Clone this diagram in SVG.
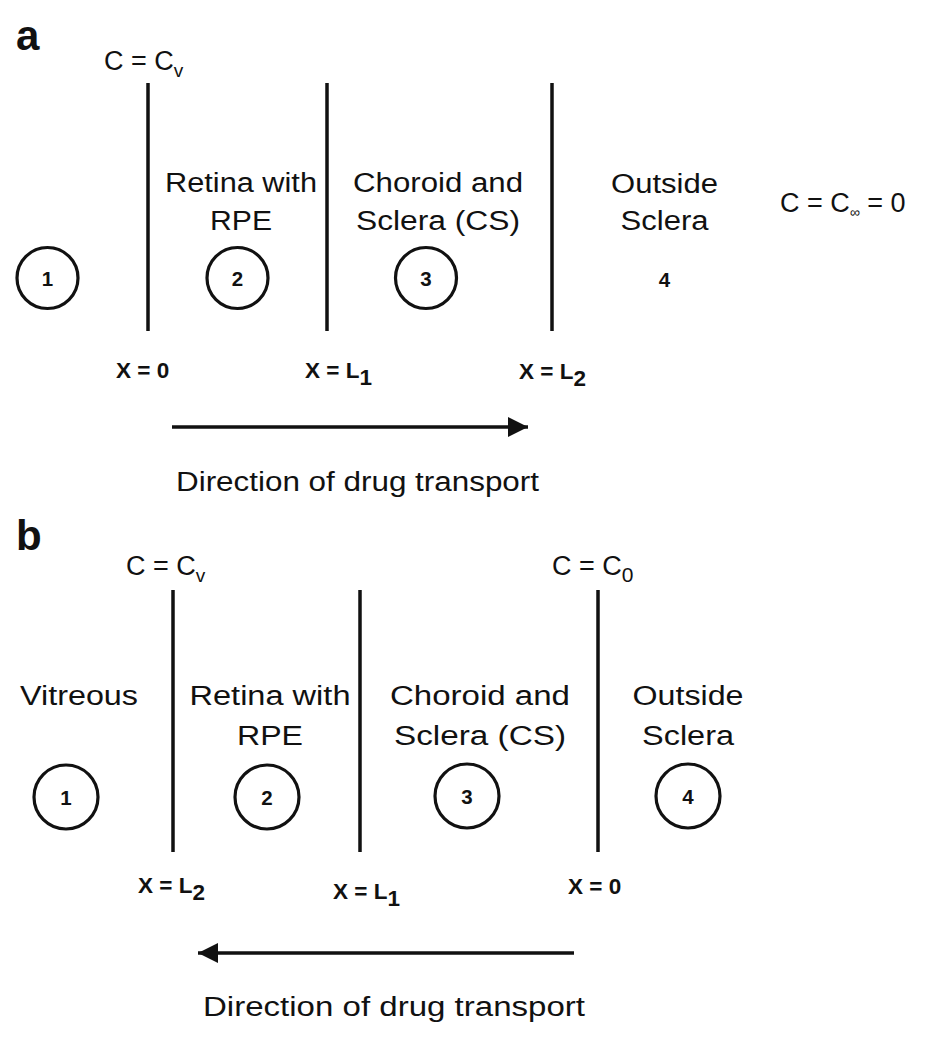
<svg xmlns="http://www.w3.org/2000/svg" width="932" height="1050" viewBox="0 0 932 1050">
<style>
.t{font-family:"Liberation Sans",Arial,sans-serif;font-size:27px;fill:#111}
.m{text-anchor:middle}
.b{font-family:"Liberation Sans",Arial,sans-serif;font-weight:bold;fill:#111}
.n{font-size:20.5px;text-anchor:middle}
.x{font-size:22.5px}
.p{font-size:42px}
.wall{stroke:#111;stroke-width:3.5;fill:none}
.c{stroke:#111;stroke-width:3.2;fill:none}
.arr{stroke:#111;stroke-width:3.5;fill:none}
</style>
<defs>
<marker id="ah" viewBox="0 0 20 20" refX="20" refY="10" markerWidth="20" markerHeight="20" markerUnits="userSpaceOnUse" orient="auto">
<path d="M0,0 L20,10 L0,20 Z" fill="#111"/>
</marker>
</defs>
<rect width="932" height="1050" fill="#fff"/>

<!-- Panel a -->
<g id="panel-a">
<text class="b p" x="16" y="50">a</text>
<g id="a-bc-left"><text class="t" x="104" y="70">C = C<tspan font-size="19" dy="7">v</tspan></text></g>
<g id="a-bc-right"><text class="t" x="780" y="212">C = C<tspan font-size="14" dy="5">∞</tspan><tspan dy="-5"> = 0</tspan></text></g>
<g id="a-walls">
<line class="wall" x1="148" y1="83" x2="148" y2="331"/>
<line class="wall" x1="327" y1="83" x2="327" y2="331"/>
<line class="wall" x1="552" y1="83" x2="552" y2="331"/>
</g>
<g id="a-region1">
<circle class="c" cx="47.5" cy="278" r="30.5"/>
<text class="b n" x="47.5" y="285.5">1</text>
</g>
<g id="a-region2">
<text class="t m" x="241" y="192" textLength="152" lengthAdjust="spacingAndGlyphs">Retina with</text>
<text class="t m" x="241" y="230" textLength="62" lengthAdjust="spacingAndGlyphs">RPE</text>
<circle class="c" cx="237.5" cy="278" r="30.5"/>
<text class="b n" x="237.5" y="285.5">2</text>
</g>
<g id="a-region3">
<text class="t m" x="438" y="192" textLength="170" lengthAdjust="spacingAndGlyphs">Choroid and</text>
<text class="t m" x="438" y="230" textLength="164" lengthAdjust="spacingAndGlyphs">Sclera (CS)</text>
<circle class="c" cx="426" cy="278" r="30.5"/>
<text class="b n" x="426" y="285.5">3</text>
</g>
<g id="a-region4">
<text class="t m" x="664.5" y="193" textLength="107" lengthAdjust="spacingAndGlyphs">Outside</text>
<text class="t m" x="664.5" y="230" textLength="88" lengthAdjust="spacingAndGlyphs">Sclera</text>
<text class="b n" x="664.5" y="287">4</text>
</g>
<g id="a-xlabels">
<text class="b x" x="116" y="378">X = 0</text>
<text class="b x" x="305" y="378">X = L<tspan dy="7">1</tspan></text>
<text class="b x" x="519" y="379">X = L<tspan dy="7">2</tspan></text>
</g>
<text class="t" x="176" y="491" textLength="363" lengthAdjust="spacingAndGlyphs">Direction of drug transport</text>
</g>

<!-- Panel b -->
<g id="panel-b">
<text class="b p" x="16" y="550">b</text>
<g id="b-bc-left"><text class="t" x="126" y="575">C = C<tspan font-size="19" dy="7">v</tspan></text></g>
<g id="b-bc-right"><text class="t" x="552" y="575">C = C<tspan font-size="21" dy="7">0</tspan></text></g>
<g id="b-walls">
<line class="wall" x1="173" y1="590" x2="173" y2="852"/>
<line class="wall" x1="360" y1="590" x2="360" y2="852"/>
<line class="wall" x1="598" y1="590" x2="598" y2="852"/>
</g>
<g id="b-region1">
<text class="t m" x="79" y="705" textLength="118" lengthAdjust="spacingAndGlyphs">Vitreous</text>
<circle class="c" cx="66" cy="797" r="32"/>
<text class="b n" x="66" y="804.5">1</text>
</g>
<g id="b-region2">
<text class="t m" x="270" y="705" textLength="161" lengthAdjust="spacingAndGlyphs">Retina with</text>
<text class="t m" x="270" y="745" textLength="66" lengthAdjust="spacingAndGlyphs">RPE</text>
<circle class="c" cx="267" cy="797" r="32"/>
<text class="b n" x="267" y="804.5">2</text>
</g>
<g id="b-region3">
<text class="t m" x="480" y="705" textLength="180" lengthAdjust="spacingAndGlyphs">Choroid and</text>
<text class="t m" x="480" y="745" textLength="172" lengthAdjust="spacingAndGlyphs">Sclera (CS)</text>
<circle class="c" cx="467" cy="796" r="32"/>
<text class="b n" x="467" y="803.5">3</text>
</g>
<g id="b-region4">
<text class="t m" x="688" y="705" textLength="111" lengthAdjust="spacingAndGlyphs">Outside</text>
<text class="t m" x="688" y="745" textLength="92" lengthAdjust="spacingAndGlyphs">Sclera</text>
<circle class="c" cx="688" cy="796" r="32"/>
<text class="b n" x="688" y="803.5">4</text>
</g>
<g id="b-xlabels">
<text class="b x" x="138" y="893">X = L<tspan dy="7">2</tspan></text>
<text class="b x" x="333" y="899">X = L<tspan dy="7">1</tspan></text>
<text class="b x" x="568" y="894">X = 0</text>
</g>
<text class="t" x="203" y="1016" textLength="382" lengthAdjust="spacingAndGlyphs">Direction of drug transport</text>
</g>

<g id="connectors">
<line class="arr" x1="172" y1="427" x2="528" y2="427" marker-end="url(#ah)"/>
<line class="arr" x1="574" y1="953" x2="198" y2="953" marker-end="url(#ah)"/>
</g>
</svg>
